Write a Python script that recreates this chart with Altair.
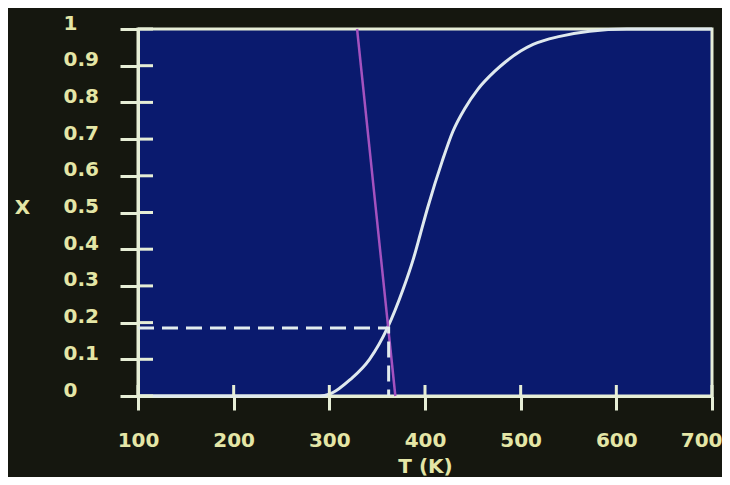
import altair as alt
import pandas as pd

# Conversion curve X(T)
T_curve = [100, 200, 290, 300, 310, 322, 342, 361, 377, 388, 395, 403, 418, 429, 442, 455, 473, 484, 500, 513, 541, 572, 611, 650, 700]
X_curve = [0.0, 0.0, 0.0, 0.005, 0.02, 0.045, 0.10, 0.187, 0.29, 0.375, 0.44, 0.515, 0.64, 0.72, 0.785, 0.835, 0.885, 0.91, 0.94, 0.958, 0.98, 0.994, 1.0, 1.0, 1.0]

# Energy-balance line (purple)
T_line = [329, 369]
X_line = [1.0, 0.0]

# Dashed guide to the operating point
T_dash = [100, 362, 362]
X_dash = [0.185, 0.185, 0.0]

x_ticks = [100, 200, 300, 400, 500, 600, 700]
y_ticks = [0, 0.1, 0.2, 0.3, 0.4, 0.5, 0.6, 0.7, 0.8, 0.9, 1]

curve_df = pd.DataFrame({"T": T_curve, "X": X_curve, "i": range(len(T_curve))})
line_df = pd.DataFrame({"T": T_line, "X": X_line, "i": range(len(T_line))})
dash_df = pd.DataFrame({"T": T_dash, "X": X_dash, "i": range(len(T_dash))})
xt_df = pd.DataFrame({"T": x_ticks})
yt_df = pd.DataFrame({"X": y_ticks})

AX = "#e6eed6"
LAB = "#e4e6a6"
FONT = "DejaVu Sans"

xscale = alt.Scale(domain=[100, 700], nice=False, zero=False)
yscale = alt.Scale(domain=[0, 1], nice=False)

xaxis = alt.Axis(values=x_ticks, title="T (K)", grid=False, domainColor=AX, domainWidth=3,
                 tickColor=AX, tickWidth=3, tickSize=14, labelPadding=20, labelColor=LAB,
                 labelFont=FONT, labelFontSize=20, labelFontWeight="bold", titleColor=LAB,
                 titleFont=FONT, titleFontSize=20, titleFontWeight="bold",
                 titleX=287, titleY=70, titleBaseline="middle", labelFlush=False,
                 labelOverlap=False, format="d",
                 labelAlign={"expr": "datum.value >= 700 ? 'right' : 'center'"},
                 labelOffset={"expr": "datum.value >= 700 ? 10 : 0"})
yaxis = alt.Axis(values=y_ticks, title="X", grid=False, domainColor=AX, domainWidth=3,
                 tickColor=AX, tickWidth=3, tickSize=18, labelPadding=57, labelAlign="left",
                 labelColor=LAB, labelFont=FONT, labelFontSize=20, labelFontWeight="bold",
                 labelOffset=-6, titleColor=LAB, titleFont=FONT, titleFontSize=20,
                 titleFontWeight="bold", titleAngle=0, titleX=-116, titleY=178,
                 titleAlign="center", titleBaseline="middle", labelFlush=False,
                 labelOverlap=False, labelSeparation=0, format="~g")

X_ENC = alt.X("T:Q", scale=xscale, axis=xaxis)
Y_ENC = alt.Y("X:Q", scale=yscale, axis=yaxis)

curve = alt.Chart(curve_df).mark_line(color="#dfe9ee", strokeWidth=3, interpolate="monotone").encode(
    x=X_ENC, y=Y_ENC, order="i:Q",
)

purple = alt.Chart(line_df).mark_line(color="#a452bf", strokeWidth=2.5).encode(
    x=X_ENC, y=Y_ENC, order="i:Q",
)

dashed = alt.Chart(dash_df).mark_line(color="#e2ecee", strokeWidth=3, strokeDash=[16, 8]).encode(
    x=X_ENC, y=Y_ENC, order="i:Q",
)

# inner halves of the crossing tick marks
ytick_in = alt.Chart(yt_df).mark_rule(color=AX, strokeWidth=3).encode(
    y=Y_ENC,
    x=alt.value(0),
    x2=alt.value(15),
)
xtick_in = alt.Chart(xt_df).mark_rule(color=AX, strokeWidth=3).encode(
    x=X_ENC,
    y=alt.value(367),
    y2=alt.value(356),
)

chart = alt.layer(curve, purple, dashed, ytick_in, xtick_in).properties(
    width=574,
    height=367,
    autosize=alt.AutoSizeParams(type="none"),
    padding={"left": 130, "top": 21, "right": 10, "bottom": 81},
    background="#15170f",
).configure_view(
    fill="#0a1a6e",
    stroke=AX,
    strokeWidth=3,
).configure_axis(
    labelOverlap=False,
)

chart.save("out.html", embed_options={"renderer": "svg", "actions": False})
